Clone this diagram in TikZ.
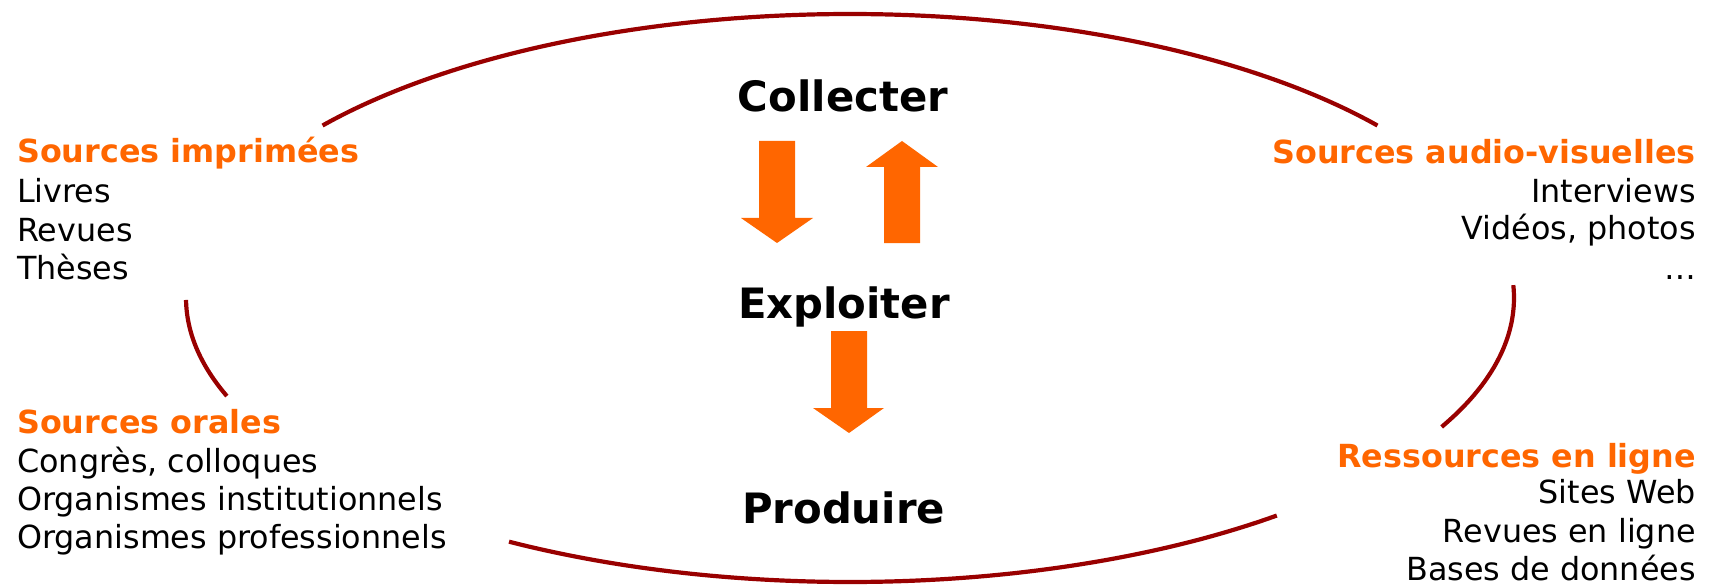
\documentclass[tikz,border=0pt]{standalone}
\usepackage{fontspec}
\setmainfont{DejaVu Sans}
\definecolor{ringred}{HTML}{990000}
\definecolor{accent}{HTML}{FF6600}
\begin{document}
\begin{tikzpicture}[x=1bp,y={(0,-1bp)},
  ring/.style={draw=ringred,line width=4.2bp},
  stage/.style={inner sep=0pt,font=\fontsize{41.8bp}{48bp}\selectfont\bfseries,text=black},
  head/.style={inner sep=0pt,font=\fontsize{31.8bp}{38bp}\selectfont\bfseries,text=accent},
  item/.style={inner sep=0pt,font=\fontsize{31.8bp}{38bp}\selectfont,text=black},
  blockarrow/.style={fill=accent,draw=none}]
\useasboundingbox (0,0) rectangle (1713,585);
% ellipse segments
\draw[ring] plot[domain=37.4:142.6,samples=90,smooth] ({850+664*cos(\x)},{298-284*sin(\x)});
\draw[ring] plot[domain=180.4:200.2,samples=30,smooth] ({850+664*cos(\x)},{298-284*sin(\x)});
\draw[ring] plot[domain=239.1:310,samples=80,smooth] ({850+664*cos(\x)},{298-284*sin(\x)});
\draw[ring] plot[domain=333:362.6,samples=40,smooth] ({850+664*cos(\x)},{298-284*sin(\x)});
% stages
\node[stage,anchor=base] (collect) at (843,112) {Collecter};
\node[stage,anchor=base] (exploit) at (844,318) {Exploiter};
\node[stage,anchor=base] (produce) at (843.5,523) {Produire};
% arrows
\fill[blockarrow] (759,141) -- (795,141) -- (795,218) -- (813,218) -- (777,243) -- (741,218) -- (759,218) -- cycle;
\fill[blockarrow] (884,243) -- (920,243) -- (920,167) -- (938,167) -- (902,141) -- (866,167) -- (884,167) -- cycle;
\fill[blockarrow] (831,331) -- (867,331) -- (867,408) -- (884,408) -- (849,433) -- (813,408) -- (831,408) -- cycle;
% left top block
\node[head,anchor=base west] (imp) at (17,163) {Sources imprimées};
\node[item,anchor=base west] (imp1) at (17,203) {Livres};
\node[item,anchor=base west] (imp2) at (17,242) {Revues};
\node[item,anchor=base west] (imp3) at (17,279) {Thèses};
% left bottom block
\node[head,anchor=base west] (ora) at (17,433) {Sources orales};
\node[item,anchor=base west] (ora1) at (17,472) {Congrès, colloques};
\node[item,anchor=base west] (ora2) at (17,510) {Organismes institutionnels};
\node[item,anchor=base west] (ora3) at (17,548) {Organismes professionnels};
% right top block
\node[head,anchor=base east] (av) at (1696,164) {Sources audio-visuelles};
\node[item,anchor=base east] (av1) at (1696,203) {Interviews};
\node[item,anchor=base east] (av2) at (1696,240) {Vidéos, photos};
\node[item,anchor=base east] (av3) at (1696,279) {…};
% right bottom block
\node[head,anchor=base east] (web) at (1696,467) {Ressources en ligne};
\node[item,anchor=base east] (web1) at (1696,503) {Sites Web};
\node[item,anchor=base east] (web2) at (1696,542) {Revues en ligne};
\node[item,anchor=base east] (web3) at (1696,580) {Bases de données};
\end{tikzpicture}
\end{document}
